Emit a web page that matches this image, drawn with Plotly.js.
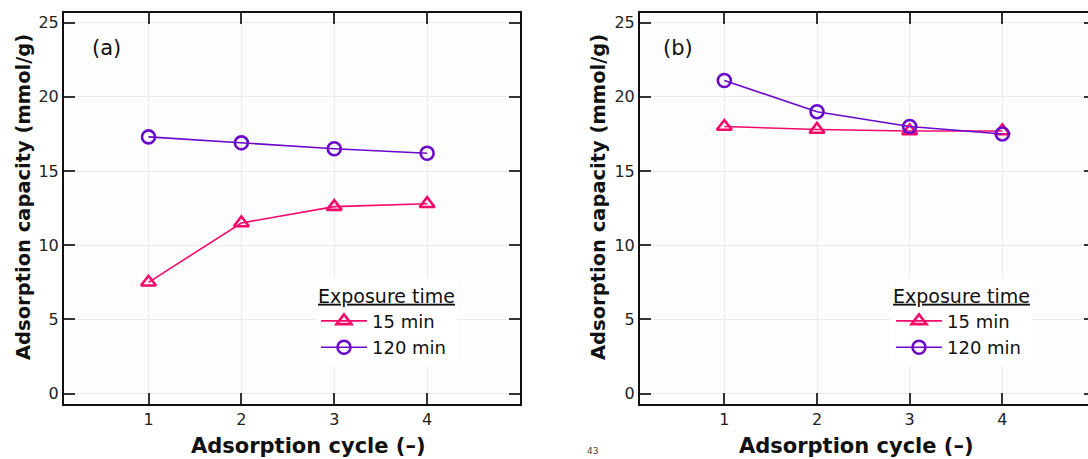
<!DOCTYPE html>
<html>
<head>
<meta charset="utf-8">
<script src="https://cdn.plot.ly/plotly-3.0.1.min.js"></script>
<style>
html, body { margin: 0; padding: 0; overflow: hidden; background: #ffffff; }
#chart { width: 1100px; height: 459px; }
</style>
</head>
<body>
<div id="chart"></div>
<script>
// Data
var cycles = [1, 2, 3, 4];
var panelA_15min = [7.5, 11.5, 12.6, 12.8];
var panelA_120min = [17.3, 16.9, 16.5, 16.2];
var panelB_15min = [18.0, 17.8, 17.7, 17.7];
var panelB_120min = [21.1, 19.0, 18.0, 17.5];
var seriesNames = ["15 min", "120 min"];
var xTicks = [1, 2, 3, 4];
var yTicks = [0, 5, 10, 15, 20, 25];

var W = 1100, H = 459;
var pinkColor = "#f5096b";
var purpleColor = "#6a08cc";
var FONT = "DejaVu Sans, Verdana, sans-serif";

function mk(x, y, name, color, symbol, xa, ya, legend) {
  return {
    x: x, y: y, name: name, type: "scatter", mode: "lines+markers",
    xaxis: xa, yaxis: ya, legend: legend,
    line: { color: color, width: 1.6 },
    marker: { symbol: symbol, size: 13, color: color, line: { color: color, width: 2.6 } },
    cliponaxis: false
  };
}

var traces = [
  mk(cycles, panelA_15min, seriesNames[0], pinkColor, "triangle-up-open", "x", "y", "legend"),
  mk(cycles, panelA_120min, seriesNames[1], purpleColor, "circle-open", "x", "y", "legend"),
  mk(cycles, panelB_15min, seriesNames[0], pinkColor, "triangle-up-open", "x2", "y2", "legend2"),
  mk(cycles, panelB_120min, seriesNames[1], purpleColor, "circle-open", "x2", "y2", "legend2")
];

function xax(domain, anchor) {
  return {
    domain: domain, anchor: anchor, range: [0.09, 5.0],
    tickmode: "array", tickvals: xTicks, ticktext: xTicks.map(String),
    ticks: "inside", ticklen: 11, tickwidth: 2, tickcolor: "#333333",
    showline: true, linecolor: "#111111", linewidth: 2, mirror: "ticks",
    showgrid: true, gridcolor: "#ebebeb", gridwidth: 1, zeroline: false,
    tickfont: { family: FONT, size: 16, color: "#222222" }
  };
}
function yax(anchor) {
  return {
    domain: [1 - 404 / H, 1 - 13 / H], anchor: anchor, range: [-0.7, 25.65],
    tickmode: "array", tickvals: yTicks, ticktext: yTicks.map(String),
    ticks: "inside", ticklen: 11, tickwidth: 2, tickcolor: "#333333",
    showline: true, linecolor: "#111111", linewidth: 2, mirror: "ticks",
    showgrid: true, gridcolor: "#ebebeb", gridwidth: 1, zeroline: false,
    tickfont: { family: FONT, size: 16, color: "#222222" }
  };
}

function legendCfg(xpx, ypx) {
  return {
    x: xpx / W, y: 1 - ypx / H, xanchor: "left", yanchor: "top",
    bgcolor: "#ffffff", borderwidth: 0,
    font: { family: FONT, size: 18, color: "#111111" },
    title: { text: "<u>Exposure time</u>", font: { family: FONT, size: 19, color: "#111111" } },
    itemwidth: 46,
    tracegroupgap: 0
  };
}

var annFont = { family: FONT, size: 21, color: "#111111" };
var titleFontX = { family: FONT, size: 21, color: "#111111", weight: "bold" };
var titleFontY = { family: FONT, size: 19.5, color: "#111111", weight: "bold" };

var layout = {
  width: W, height: H,
  margin: { l: 0, r: 0, t: 0, b: 0 },
  paper_bgcolor: "#ffffff",
  plot_bgcolor: "#fdfdfd",
  showlegend: true,
  xaxis: xax([64 / W, 520 / W], "y"),
  yaxis: yax("x"),
  xaxis2: xax([640 / W, 1095 / W], "y2"),
  yaxis2: yax("x2"),
  legend: legendCfg(316, 278),
  legend2: legendCfg(891, 278),
  annotations: [
    { text: "(a)", xref: "paper", yref: "paper", x: 106 / W, y: 1 - 48 / H, showarrow: false, font: annFont, xanchor: "center", yanchor: "middle" },
    { text: "(b)", xref: "paper", yref: "paper", x: 678 / W, y: 1 - 48 / H, showarrow: false, font: annFont, xanchor: "center", yanchor: "middle" },
    { text: "<b>Adsorption cycle (–)</b>", xref: "paper", yref: "paper", x: 308 / W, y: 1 - 446 / H, showarrow: false, font: titleFontX, xanchor: "center", yanchor: "middle" },
    { text: "<b>Adsorption cycle (–)</b>", xref: "paper", yref: "paper", x: 856 / W, y: 1 - 446 / H, showarrow: false, font: titleFontX, xanchor: "center", yanchor: "middle" },
    { text: "<b>Adsorption capacity (mmol/g)</b>", xref: "paper", yref: "paper", x: 23 / W, y: 1 - 197 / H, textangle: -90, showarrow: false, font: titleFontY, xanchor: "center", yanchor: "middle" },
    { text: "<b>Adsorption capacity (mmol/g)</b>", xref: "paper", yref: "paper", x: 598 / W, y: 1 - 197 / H, textangle: -90, showarrow: false, font: titleFontY, xanchor: "center", yanchor: "middle" },
    { text: "43", xref: "paper", yref: "paper", x: 592 / W, y: 1 - 451 / H, showarrow: false, font: { family: FONT, size: 9, color: "#444444" }, xanchor: "center", yanchor: "middle" }
  ]
};

Plotly.newPlot("chart", traces, layout, { staticPlot: true, displayModeBar: false });
</script>
</body>
</html>
